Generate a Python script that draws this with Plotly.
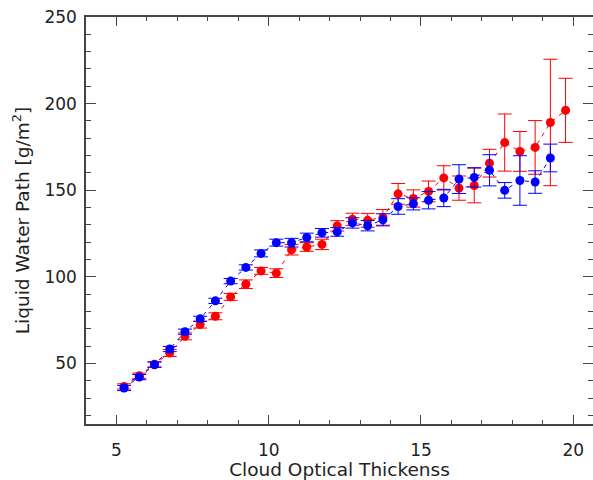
import plotly.graph_objects as go

# Data
x_red = [5.25, 5.75, 6.25, 6.75, 7.25, 7.75, 8.25, 8.75, 9.25, 9.75,
         10.25, 10.75, 11.25, 11.75, 12.25, 12.75, 13.25, 13.75, 14.25, 14.75,
         15.25, 15.75, 16.25, 16.75, 17.25, 17.75, 18.25, 18.75, 19.25, 19.75]
y_red = [36.7, 42.9, 49.5, 56.0, 65.6, 72.4, 77.2, 88.4, 95.7, 103.4,
         102.1, 115.6, 117.2, 118.7, 129.4, 133.2, 132.6, 134.3, 147.9, 145.2,
         149.3, 157.1, 151.2, 152.7, 165.6, 177.5, 172.4, 174.7, 189.1, 196.1]
err_red = [1.5, 1.5, 1.5, 2.0, 2.0, 2.0, 2.0, 2.0, 2.5, 2.0,
           2.5, 3.0, 2.5, 3.0, 3.0, 3.5, 4.0, 4.5, 6.0, 5.0,
           6.0, 7.0, 7.0, 10.0, 8.0, 16.5, 11.5, 15.5, 36.5, 18.5]

x_blue = [5.25, 5.75, 6.25, 6.75, 7.25, 7.75, 8.25, 8.75, 9.25, 9.75,
          10.25, 10.75, 11.25, 11.75, 12.25, 12.75, 13.25, 13.75, 14.25, 14.75,
          15.25, 15.75, 16.25, 16.75, 17.25, 17.75, 18.25, 18.75, 19.25]
y_blue = [35.8, 42.1, 49.2, 58.3, 68.3, 75.7, 86.1, 97.5, 105.4, 113.5,
          119.7, 119.7, 122.7, 125.4, 125.9, 131.1, 129.5, 132.9, 140.6, 142.1,
          144.2, 145.5, 156.4, 157.4, 161.5, 149.9, 155.6, 154.7, 168.6]
err_blue = [1.5, 1.5, 1.5, 1.5, 1.5, 1.5, 1.5, 1.5, 1.5, 2.0,
            2.0, 2.5, 2.5, 2.5, 2.5, 3.0, 3.0, 3.5, 4.5, 3.5,
            5.0, 5.0, 8.3, 5.6, 9.0, 4.5, 14.3, 6.5, 8.0]

x_title = "Cloud Optical Thickenss"
y_title = "Liquid Water Path [g/m<sup>2</sup>]"

fig = go.Figure()
for xs, ys, es, col in [(x_red, y_red, err_red, "#ff0000"),
                        (x_blue, y_blue, err_blue, "#0000ff")]:
    fig.add_trace(go.Scatter(
        x=xs, y=ys, mode="lines+markers",
        line=dict(color=col, width=1, dash="4px,5px"),
        marker=dict(color=col, size=9, symbol="circle"),
        error_y=dict(type="data", array=es, visible=True,
                     color=col, thickness=1, width=7),
        showlegend=False,
    ))

axis_color = "#444444"
fig.update_layout(
    width=593, height=480,
    margin=dict(l=86, r=0, t=17, b=56),
    paper_bgcolor="white", plot_bgcolor="white",
    font=dict(family="DejaVu Sans", size=17, color="#222222"),
    xaxis=dict(
        range=[4, 20.65], showgrid=False, zeroline=False,
        showline=True, linecolor=axis_color, linewidth=1.5, mirror="ticks",
        ticks="inside", ticklen=9, tickwidth=1, tickcolor=axis_color,
        tick0=5, dtick=5, ticklabelstandoff=10,
        minor=dict(ticks="inside", ticklen=4.5, dtick=1, tick0=0,
                   tickcolor=axis_color, tickwidth=1, showgrid=False),
        title=dict(text=x_title, font=dict(size=18.5), standoff=2),
        automargin=False,
    ),
    yaxis=dict(
        range=[15, 250], showgrid=False, zeroline=False,
        showline=True, linecolor=axis_color, linewidth=1.5, mirror="ticks",
        ticks="inside", ticklen=10, tickwidth=1, tickcolor=axis_color,
        tick0=0, dtick=50, ticklabelstandoff=4,
        minor=dict(ticks="inside", ticklen=5, dtick=10, tick0=0,
                   tickcolor=axis_color, tickwidth=1, showgrid=False),
        title=dict(text=y_title, font=dict(size=18.5), standoff=10),
        automargin=False,
    ),
)

fig.write_html(
    "out.html",
    config={"displayModeBar": False},
    post_script="document.body.style.margin='0';document.body.style.overflow='hidden';",
)
